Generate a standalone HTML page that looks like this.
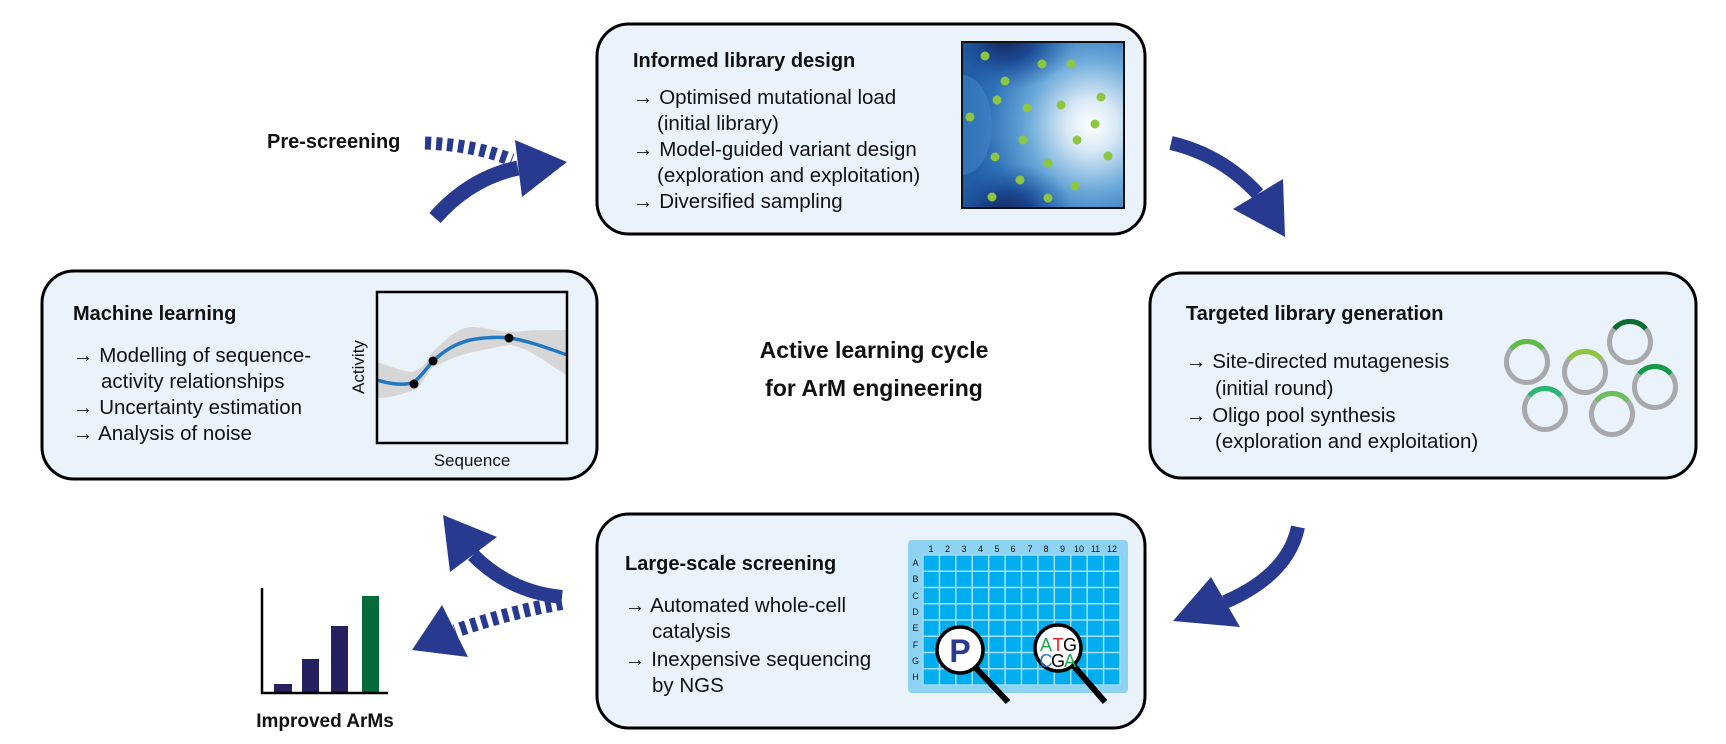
<!DOCTYPE html>
<html><head><meta charset="utf-8"><style>
html,body{margin:0;padding:0;background:#fff}
svg{display:block}
text{font-family:"Liberation Sans",Arial,sans-serif;fill:#111}
.t{font-weight:bold;font-size:20px}
.b{font-size:20.5px}
</style></head><body>
<svg width="1726" height="744" viewBox="0 0 1726 744" xmlns="http://www.w3.org/2000/svg">
<defs>
<radialGradient id="g1" cx="0.8" cy="0.5" r="0.8">
<stop offset="0" stop-color="#ffffff"/><stop offset="0.2" stop-color="#d8e8f5"/><stop offset="0.5" stop-color="#6aa8d9"/><stop offset="0.8" stop-color="#2f72b8"/><stop offset="1" stop-color="#1f5ba3"/></radialGradient>
<radialGradient id="g2" cx="0.5" cy="0.5" r="0.5"><stop offset="0" stop-color="#13295e"/><stop offset="0.4" stop-color="#1b4790"/><stop offset="1" stop-color="#2a6bb2" stop-opacity="0"/></radialGradient>
<clipPath id="cl"><rect x="962" y="42" width="162" height="166"/></clipPath>
</defs>
<!-- boxes -->
<rect x="597" y="24" width="548" height="210" rx="32" fill="#eaf2fb" stroke="#000" stroke-width="3"/>
<rect x="42" y="271" width="555" height="208" rx="32" fill="#eaf2fb" stroke="#000" stroke-width="3"/>
<rect x="1150" y="273" width="546" height="205" rx="32" fill="#eaf2fb" stroke="#000" stroke-width="3"/>
<rect x="597" y="514" width="548" height="214" rx="32" fill="#eaf2fb" stroke="#000" stroke-width="3"/>

<!-- top box -->
<text x="633" y="67" class="t">Informed library design</text>
<text x="633" y="104" class="b">→ Optimised mutational load</text>
<text x="657" y="130" class="b">(initial library)</text>
<text x="633" y="156" class="b">→ Model-guided variant design</text>
<text x="657" y="182" class="b">(exploration and exploitation)</text>
<text x="633" y="208" class="b">→ Diversified sampling</text>
<g clip-path="url(#cl)">
<rect x="962" y="42" width="162" height="166" fill="url(#g1)"/>
<ellipse cx="1005" cy="40" rx="70" ry="50" fill="url(#g2)"/>
<ellipse cx="1005" cy="212" rx="70" ry="50" fill="url(#g2)"/>
<ellipse cx="962" cy="125" rx="30" ry="50" fill="#3f85c4" opacity="0.6"/>
</g>
<rect x="962" y="42" width="162" height="166" fill="none" stroke="#111" stroke-width="2"/>
<g fill="#8dc63f">
<circle cx="985" cy="56" r="4.5"/><circle cx="1042" cy="64" r="4.5"/><circle cx="1071" cy="64" r="4.5"/><circle cx="1005" cy="81" r="4.5"/><circle cx="997" cy="100" r="4.5"/><circle cx="1101" cy="97" r="4.5"/><circle cx="1027" cy="108" r="4.5"/><circle cx="1061" cy="105" r="4.5"/><circle cx="970" cy="117" r="4.5"/><circle cx="1095" cy="124" r="4.5"/><circle cx="1023" cy="140" r="4.5"/><circle cx="1077" cy="140" r="4.5"/><circle cx="995" cy="157" r="4.5"/><circle cx="1048" cy="163" r="4.5"/><circle cx="1108" cy="156" r="4.5"/><circle cx="1020" cy="180" r="4.5"/><circle cx="1075" cy="186" r="4.5"/><circle cx="992" cy="197" r="4.5"/><circle cx="1048" cy="198" r="4.5"/>
</g>

<!-- ML box -->
<text x="73" y="320" class="t">Machine learning</text>
<text x="73" y="362" class="b">→ Modelling of sequence-</text>
<text x="101" y="388" class="b">activity relationships</text>
<text x="73" y="414" class="b">→ Uncertainty estimation</text>
<text x="73" y="440" class="b">→ Analysis of noise</text>
<path d="M377,362 C395,368 405,372 413,372 C425,368 430,355 433,352 C450,335 460,327 473,327 C490,328 500,332 510,332 C530,330 550,330 566,330 L566,375 C550,365 530,348 510,345 C495,347 485,350 473,352 C455,356 445,362 433,367 C425,375 420,390 413,390 C400,395 390,398 377,398 Z" fill="#d6d6d6"/>
<path d="M377,380 C390,384 405,386 414,382 C422,376 428,366 433,361 C445,350 455,344 470,340 C485,337 500,337 509,338 C525,340 545,347 567,355" fill="none" stroke="#1f78c1" stroke-width="3.5"/>
<circle cx="414" cy="384" r="4.5" fill="#000"/><circle cx="433" cy="361" r="4.5" fill="#000"/><circle cx="509" cy="338" r="4.5" fill="#000"/>
<rect x="377" y="292" width="190" height="151" fill="none" stroke="#000" stroke-width="2.5"/>
<text x="472" y="466" text-anchor="middle" font-size="17">Sequence</text>
<text transform="translate(364,367) rotate(-90)" text-anchor="middle" font-size="17">Activity</text>

<!-- center -->
<text x="874" y="358" text-anchor="middle" font-weight="bold" font-size="23">Active learning cycle</text>
<text x="874" y="396" text-anchor="middle" font-weight="bold" font-size="23">for ArM engineering</text>

<!-- right box -->
<text x="1186" y="320" class="t">Targeted library generation</text>
<text x="1186" y="368" class="b">→ Site-directed mutagenesis</text>
<text x="1215" y="395" class="b">(initial round)</text>
<text x="1186" y="422" class="b">→ Oligo pool synthesis</text>
<text x="1215" y="448" class="b">(exploration and exploitation)</text>
<g fill="none" stroke-width="5">
<g stroke="#a7a9ac"><circle cx="1527" cy="362" r="20.5"/><circle cx="1585" cy="372" r="20.5"/><circle cx="1630" cy="342" r="20.5"/><circle cx="1655" cy="387" r="20.5"/><circle cx="1545" cy="409" r="20.5"/><circle cx="1612" cy="414" r="20.5"/></g>
<path d="M1511.3,348.8 A20.5,20.5 0 0 1 1542.7,348.8" stroke="#5dbb46"/>
<path d="M1569.3,358.8 A20.5,20.5 0 0 1 1600.7,358.8" stroke="#8dc63f"/>
<path d="M1614.3,328.8 A20.5,20.5 0 0 1 1645.7,328.8" stroke="#0b6b35"/>
<path d="M1639.3,373.8 A20.5,20.5 0 0 1 1670.7,373.8" stroke="#119a48"/>
<path d="M1529.3,395.8 A20.5,20.5 0 0 1 1560.7,395.8" stroke="#2bb673"/>
<path d="M1596.3,400.8 A20.5,20.5 0 0 1 1627.7,400.8" stroke="#6cc05a"/>
</g>

<!-- bottom box -->
<text x="625" y="570" class="t">Large-scale screening</text>
<text x="625" y="612" class="b">→ Automated whole-cell</text>
<text x="652" y="638" class="b">catalysis</text>
<text x="625" y="666" class="b">→ Inexpensive sequencing</text>
<text x="652" y="692" class="b">by NGS</text>
<rect x="908" y="540" width="220" height="153" rx="4" fill="#8fd3f2"/>
<g fill="#00aeef" stroke="#9edcf5" stroke-width="1.5">
<rect x="923" y="555" width="197" height="130"/>
</g>
<g stroke="#a8e0f7" stroke-width="1.5">
<line x1="939.4" y1="555" x2="939.4" y2="685"/><line x1="955.8" y1="555" x2="955.8" y2="685"/><line x1="972.2" y1="555" x2="972.2" y2="685"/><line x1="988.7" y1="555" x2="988.7" y2="685"/><line x1="1005.1" y1="555" x2="1005.1" y2="685"/><line x1="1021.5" y1="555" x2="1021.5" y2="685"/><line x1="1037.9" y1="555" x2="1037.9" y2="685"/><line x1="1054.3" y1="555" x2="1054.3" y2="685"/><line x1="1070.7" y1="555" x2="1070.7" y2="685"/><line x1="1087.2" y1="555" x2="1087.2" y2="685"/><line x1="1103.6" y1="555" x2="1103.6" y2="685"/>
<line x1="923" y1="571.3" x2="1120" y2="571.3"/><line x1="923" y1="587.5" x2="1120" y2="587.5"/><line x1="923" y1="603.8" x2="1120" y2="603.8"/><line x1="923" y1="620" x2="1120" y2="620"/><line x1="923" y1="636.3" x2="1120" y2="636.3"/><line x1="923" y1="652.5" x2="1120" y2="652.5"/><line x1="923" y1="668.8" x2="1120" y2="668.8"/>
</g>
<g font-size="9" text-anchor="middle">
<text x="931" y="552">1</text><text x="947.5" y="552">2</text><text x="964" y="552">3</text><text x="980.5" y="552">4</text><text x="997" y="552">5</text><text x="1013" y="552">6</text><text x="1030" y="552">7</text><text x="1046" y="552">8</text><text x="1062.5" y="552">9</text><text x="1079" y="552">10</text><text x="1095.5" y="552">11</text><text x="1112" y="552">12</text>
<text x="915.5" y="566">A</text><text x="915.5" y="582">B</text><text x="915.5" y="599">C</text><text x="915.5" y="615">D</text><text x="915.5" y="631">E</text><text x="915.5" y="648">F</text><text x="915.5" y="664">G</text><text x="915.5" y="680">H</text>
</g>
<line x1="975" y1="667" x2="1008" y2="702" stroke="#000" stroke-width="6"/>
<circle cx="960" cy="650" r="23" fill="#fff" stroke="#000" stroke-width="3.5"/>
<text x="960" y="662" text-anchor="middle" font-weight="bold" font-size="32" style="fill:#2b3990">P</text>
<line x1="1073" y1="665" x2="1105" y2="702" stroke="#000" stroke-width="6"/>
<circle cx="1058" cy="648" r="23" fill="#fff" stroke="#000" stroke-width="3.5"/>
<g font-size="18" text-anchor="middle">
<text x="1046" y="651" style="fill:#1faa4b">A</text><text x="1058" y="651" style="fill:#ed1c24">T</text><text x="1070" y="651" style="fill:#000">G</text>
<text x="1046" y="667" style="fill:#1f78c1">C</text><text x="1058" y="667" style="fill:#000">G</text><text x="1070" y="667" style="fill:#1faa4b">A</text>
</g>

<!-- arrows -->
<g fill="#283a8f" stroke="none">
<path d="M1171,143 Q1222,155 1258,194" fill="none" stroke="#283a8f" stroke-width="14"/>
<polygon points="1285,237 1233,209 1283,179"/>
<path d="M1298,527 Q1288,575 1225,602" fill="none" stroke="#283a8f" stroke-width="14"/>
<polygon points="1173,621 1211,577 1240,627"/>
<path d="M562,597 Q510,592 473,555" fill="none" stroke="#283a8f" stroke-width="14"/>
<polygon points="443,515 450,572 497,537"/>
<path d="M562,603 Q510,612 455,631" fill="none" stroke="#283a8f" stroke-width="14" stroke-dasharray="6,5"/>
<polygon points="412,650 442,605 468,657"/>
<path d="M425,143 Q475,145 512,160" fill="none" stroke="#283a8f" stroke-width="13" stroke-dasharray="6,5"/>
<path d="M435,218 Q470,178 518,168" fill="none" stroke="#283a8f" stroke-width="15"/>
<polygon points="567,162 515,140 522,197"/>
</g>
<text x="267" y="148" font-weight="bold" font-size="20">Pre-screening</text>

<!-- bar chart -->
<g fill="#24215e"><rect x="274" y="684" width="18" height="9"/><rect x="302" y="659" width="17" height="34"/><rect x="331" y="626" width="17" height="67"/></g>
<rect x="362" y="596" width="17" height="97" fill="#066a3b"/>
<path d="M262,588 V693 H388" fill="none" stroke="#000" stroke-width="2.5"/>
<text x="325" y="727" text-anchor="middle" font-weight="bold" font-size="19">Improved ArMs</text>
</svg>
</body></html>
